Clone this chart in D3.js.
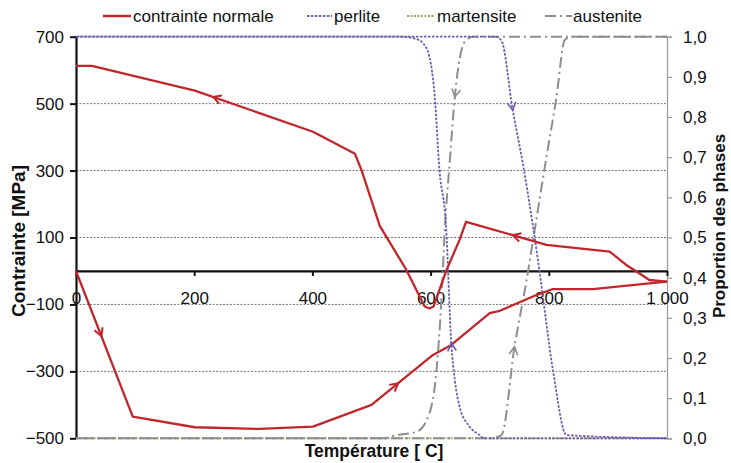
<!DOCTYPE html>
<html>
<head>
<meta charset="utf-8">
<script src="https://cdn.jsdelivr.net/npm/d3@7"></script>
<style>
  html, body { margin: 0; padding: 0; background: #fff; }
  svg { display: block; font-family: "Liberation Sans", Arial, sans-serif; }
</style>
</head>
<body>
<svg id="chart" width="731" height="463"></svg>
<script>
// ---------------- DATA ----------------
const seriesNames = ["contrainte normale", "perlite", "martensite", "austenite"];

// stress (MPa) - heating branch (0 -> 1000 °C)
const stressHeatT = [0, 96, 201, 311, 401, 500, 604, 635, 700, 717, 779, 807, 875, 953, 1000];
const stressHeatS = [0, -435, -467, -472, -465, -400, -251, -221, -126, -119, -72, -54, -54, -40, -32];
// stress (MPa) - cooling branch (1000 -> 0 °C)
const stressCoolT = [1000, 970, 953, 931, 903, 796, 660, 649, 627, 605, 598, 590, 559, 514, 483, 472, 401, 201, 27, 0];
const stressCoolS = [-32, -27, -7, 18, 58, 78, 147, 93, 3, -106, -112, -106, 3, 135, 302, 350, 416, 539, 613, 613];

// perlite proportion
const perliteHeatT = [0, 710, 720, 739, 756, 773, 784, 807, 830, 1000];
const perliteHeatP = [1, 1, 0.99, 0.817, 0.685, 0.53, 0.419, 0.17, 0.008, 0];
const perliteCoolT = [1000, 690, 683, 666, 649, 641, 635, 626, 615, 607, 598, 587, 576, 550, 0];
const perliteCoolP = [0, 0, 0.008, 0.029, 0.079, 0.145, 0.237, 0.531, 0.668, 0.85, 0.95, 0.984, 0.994, 1, 1];

// martensite proportion
const martensiteT = [0, 1000];
const martensiteP = [0, 0];

// austenite proportion
const austeniteHeatT = [0, 700, 720, 742, 762, 773, 796, 813, 827, 840, 1000];
const austeniteHeatP = [0, 0, 0.008, 0.228, 0.39, 0.49, 0.70, 0.85, 0.992, 1, 1];
const austeniteCoolT = [1000, 672, 658, 641, 633, 624, 618, 610, 598, 576, 542, 520, 0];
const austeniteCoolP = [1, 1, 0.988, 0.85, 0.70, 0.519, 0.336, 0.17, 0.062, 0.016, 0.008, 0, 0];

// arrow markers: temperature where an arrow sits on each branch
const arrowsStressHeat = [43, 545];
const arrowsStressCool = [739, 232];
const arrowsPerliteHeat = [739];
const arrowsPerliteCool = [635];
const arrowsAusteniteHeat = [742];
const arrowsAusteniteCool = [641];

// tick labels
const xTicks = [0, 200, 400, 600, 800, 1000];
const yLeftTicks = [700, 500, 300, 100, -100, -300, -500];
const yRightTicks = [0, 0.1, 0.2, 0.3, 0.4, 0.5, 0.6, 0.7, 0.8, 0.9, 1.0];
const gridValues = [500, 300, 100, -100, -300];

// ---------------- STYLE ----------------
const C_RED = "#c0272d";
const C_PURPLE = "#6f5aae";
const C_OLIVE = "#9aa26a";
const C_GRAY = "#8e8e8e";

const svg = d3.select("#chart");
const L = 76, R = 667, T = 36.7, B = 438.3;

const x = d3.scaleLinear().domain([0, 1000]).range([L, R]);
const yL = d3.scaleLinear().domain([-500, 700]).range([B, T]);
const yR = d3.scaleLinear().domain([0, 1]).range([B, T]);

// grid
svg.append("g").selectAll("line").data(gridValues).join("line")
  .attr("x1", L).attr("x2", R)
  .attr("y1", d => yL(d)).attr("y2", d => yL(d))
  .attr("stroke", "#777").attr("stroke-width", 1).attr("stroke-dasharray", "2,1.5");

// right axis
const rAxis = svg.append("g").attr("transform", `translate(${R},0)`)
  .call(d3.axisRight(yR).tickValues(yRightTicks).tickSize(5).tickPadding(11)
    .tickFormat(d => d.toFixed(1).replace(".", ",")));
rAxis.select(".domain").attr("stroke", "#999").attr("stroke-width", 1.2);
rAxis.selectAll(".tick line").attr("stroke", "#999").attr("stroke-width", 1.2);
rAxis.selectAll("text").attr("font-size", 17).attr("fill", "#111")
  .attr("font-family", "'Liberation Sans', Arial, sans-serif");

// left axis
const lAxis = svg.append("g").attr("transform", `translate(${L},0)`)
  .call(d3.axisLeft(yL).tickValues(yLeftTicks).tickSize(6).tickPadding(6).tickSizeOuter(0));
lAxis.select(".domain").attr("stroke", "#111").attr("stroke-width", 2.2);
lAxis.selectAll(".tick line").attr("stroke", "#111").attr("stroke-width", 2);
lAxis.selectAll("text").attr("font-size", 17).attr("fill", "#111")
  .attr("font-family", "'Liberation Sans', Arial, sans-serif");

// x axis at y = 0
const xAxis = svg.append("g").attr("transform", `translate(0,${yL(0)})`)
  .call(d3.axisBottom(x).tickValues(xTicks).tickSize(5).tickPadding(16).tickSizeOuter(0)
    .tickFormat(d => d === 1000 ? "1 000" : String(d)));
xAxis.select(".domain").attr("stroke", "#111").attr("stroke-width", 2.2);
xAxis.selectAll(".tick line").attr("stroke", "#111").attr("stroke-width", 2);
xAxis.selectAll("text").attr("font-size", 17).attr("fill", "#111")
  .attr("font-family", "'Liberation Sans', Arial, sans-serif");

// lines
const zip = (a, b) => a.map((v, i) => [v, b[i]]);
const lineL = d3.line().x(d => x(d[0])).y(d => yL(d[1]));
const lineR = d3.line().x(d => x(d[0])).y(d => yR(d[1])).curve(d3.curveMonotoneX);

function drawPhase(Ts, Ps, color, dash, width) {
  svg.append("path").datum(zip(Ts, Ps)).attr("d", lineR)
    .attr("fill", "none").attr("stroke", color).attr("stroke-width", width)
    .attr("stroke-dasharray", dash);
}
drawPhase(martensiteT, martensiteP, C_OLIVE, "2,1.5", 2);
drawPhase(austeniteHeatT, austeniteHeatP, C_GRAY, "11,4,2,4", 2);
drawPhase(austeniteCoolT, austeniteCoolP, C_GRAY, "11,4,2,4", 2);
drawPhase(perliteHeatT, perliteHeatP, C_PURPLE, "2.5,1.5", 1.8);
drawPhase(perliteCoolT, perliteCoolP, C_PURPLE, "2.5,1.5", 1.8);

svg.append("path").datum(zip(stressHeatT, stressHeatS)).attr("d", lineL)
  .attr("fill", "none").attr("stroke", C_RED).attr("stroke-width", 2.3).attr("stroke-linejoin", "round");
svg.append("path").datum(zip(stressCoolT, stressCoolS)).attr("d", lineL)
  .attr("fill", "none").attr("stroke", C_RED).attr("stroke-width", 2.3).attr("stroke-linejoin", "round");

// arrows: located on a branch (arrays in travel order), pointing in travel direction
function drawArrows(Ts, Vs, ys, temps, color, width) {
  temps.forEach(t => {
    for (let i = 0; i < Ts.length - 1; i++) {
      const a = Ts[i], b = Ts[i + 1];
      if ((t - a) * (t - b) <= 0 && a !== b) {
        const f = (t - a) / (b - a);
        const v = Vs[i] + f * (Vs[i + 1] - Vs[i]);
        const px = x(t), py = ys(v);
        const dx = x(b) - x(a), dy = ys(Vs[i + 1]) - ys(Vs[i]);
        const ang = Math.atan2(dy, dx);
        const len = 9, spread = 0.5;
        const p1 = [px - len * Math.cos(ang - spread), py - len * Math.sin(ang - spread)];
        const p2 = [px - len * Math.cos(ang + spread), py - len * Math.sin(ang + spread)];
        svg.append("path")
          .attr("d", `M${p1[0]},${p1[1]}L${px},${py}L${p2[0]},${p2[1]}`)
          .attr("fill", "none").attr("stroke", color).attr("stroke-width", width)
          .attr("stroke-linejoin", "miter");
        break;
      }
    }
  });
}
drawArrows(stressHeatT, stressHeatS, yL, arrowsStressHeat, C_RED, 2);
drawArrows(stressCoolT, stressCoolS, yL, arrowsStressCool, C_RED, 2);
drawArrows(perliteHeatT, perliteHeatP, yR, arrowsPerliteHeat, C_PURPLE, 1.6);
drawArrows(perliteCoolT, perliteCoolP, yR, arrowsPerliteCool, C_PURPLE, 1.6);
drawArrows(austeniteHeatT, austeniteHeatP, yR, arrowsAusteniteHeat, C_GRAY, 1.6);
drawArrows(austeniteCoolT, austeniteCoolP, yR, arrowsAusteniteCool, C_GRAY, 1.6);

// axis titles
svg.append("text").attr("x", 374).attr("y", 457).attr("text-anchor", "middle")
  .attr("font-size", 17.5).attr("font-weight", "bold").attr("fill", "#111")
  .text("Température [ C]");
svg.append("text").attr("transform", "translate(25,241) rotate(-90)").attr("text-anchor", "middle")
  .attr("font-size", 19).attr("font-weight", "bold").attr("fill", "#111")
  .text("Contrainte [MPa]");
svg.append("text").attr("transform", "translate(725,226) rotate(-90)").attr("text-anchor", "middle")
  .attr("font-size", 17).attr("font-weight", "bold").attr("fill", "#111")
  .text("Proportion des phases");

// legend
const legendItems = [
  { name: seriesNames[0], color: C_RED, dash: null, w: 2.5, x0: 103, x1: 131, tx: 133 },
  { name: seriesNames[1], color: C_PURPLE, dash: "2.5,1.5", w: 1.8, x0: 307, x1: 332, tx: 334 },
  { name: seriesNames[2], color: C_OLIVE, dash: "2,1.5", w: 2, x0: 407, x1: 435, tx: 437 },
  { name: seriesNames[3], color: C_GRAY, dash: "11,4,2,4", w: 2, x0: 545, x1: 572, tx: 573 }
];
const lg = svg.append("g");
legendItems.forEach(it => {
  lg.append("line").attr("x1", it.x0).attr("x2", it.x1).attr("y1", 16).attr("y2", 16)
    .attr("stroke", it.color).attr("stroke-width", it.w)
    .attr("stroke-dasharray", it.dash);
  lg.append("text").attr("x", it.tx).attr("y", 22).attr("font-size", 17).attr("fill", "#111")
    .text(it.name);
});
</script>
</body>
</html>
